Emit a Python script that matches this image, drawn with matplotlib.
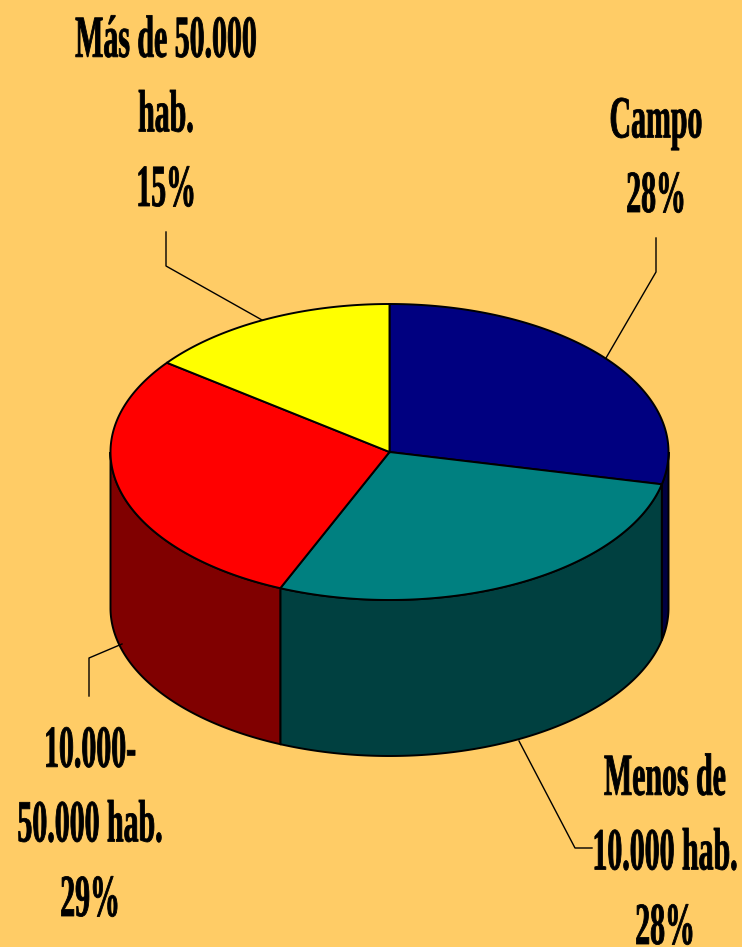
import numpy as np
import matplotlib
matplotlib.use("Agg")
import matplotlib.pyplot as plt
from matplotlib.patches import Polygon
from matplotlib.patheffects import AbstractPathEffect
from matplotlib.transforms import Affine2D

# slices, clockwise from 12 o'clock
labels = ["Campo\n28%", "Menos de\n10.000 hab.\n28%", "10.000-\n50.000 hab.\n29%", "Más de 50.000\nhab.\n15%"]
values = [28.5, 27.9, 28.9, 14.7]
top_colors = ["#000080", "#008080", "#FF0000", "#FFFF00"]
side_colors = ["#000040", "#004040", "#800000", "#808000"]

# x centre and baseline of the last line
label_pos = [(656, 212), (665, 944), (90, 916), (166, 206)]
leaders = [
    [(656, 238), (656, 272), (606, 358)],
    [(592, 848), (575, 848), (519, 741)],
    [(89, 696), (89, 658), (122, 644)],
    [(166, 232), (166, 266), (262, 320)],
]

cx, cy = 389.5, 452
rx, ry = 279, 148
depth = 156


class TallText(AbstractPathEffect):
    # the reference font is a condensed serif, so stretch the glyphs upwards
    def __init__(self, y0, factor, stroke):
        super().__init__()
        self.y0 = y0
        self.factor = factor
        self.stroke = stroke

    def draw_path(self, renderer, gc, tpath, affine, rgbFace=None):
        stretch = Affine2D().translate(0, -self.y0).scale(1, self.factor).translate(0, self.y0)
        gc0 = renderer.new_gc()
        gc0.copy_properties(gc)
        gc0.set_foreground("black")
        gc0.set_linewidth(self.stroke)
        renderer.draw_path(gc0, tpath, affine + stretch, rgbFace)
        gc0.restore()


def rim(t):
    # t is clockwise from the top, in radians
    return cx + rx * np.sin(t), cy - ry * np.cos(t)


fig = plt.figure(figsize=(7.42, 9.47), dpi=100, facecolor="#FFCC66")
ax = fig.add_axes([0, 0, 1, 1])
ax.set_xlim(0, 742)
ax.set_ylim(947, 0)
ax.axis("off")

edges = np.cumsum([0] + values) / sum(values) * 2 * np.pi

# walls of the cylinder, only the front half shows
for i in range(len(values)):
    a = max(edges[i], np.pi / 2)
    b = min(edges[i + 1], 3 * np.pi / 2)
    if b <= a:
        continue
    t = np.linspace(a, b, 200)
    x, y = rim(t)
    pts = np.column_stack([np.r_[x, x[::-1]], np.r_[y, y[::-1] + depth]])
    ax.add_patch(Polygon(pts, closed=True, fc=side_colors[i], ec="black", lw=1.4))

# top face
for i in range(len(values)):
    t = np.linspace(edges[i], edges[i + 1], 200)
    x, y = rim(t)
    pts = np.column_stack([np.r_[cx, x], np.r_[cy, y]])
    ax.add_patch(Polygon(pts, closed=True, fc=top_colors[i], ec="black", lw=1.4))

for line in leaders:
    xs, ys = zip(*line)
    ax.plot(xs, ys, color="black", lw=1)

for text, (x, y) in zip(labels, label_pos):
    t = ax.text(x, y, text, ha="center", va="baseline", family="Liberation Serif",
                weight="bold", fontsize=21.5, linespacing=1.49, color="black", clip_on=False)
    t.set_path_effects([TallText(ax.transData.transform((x, y))[1], 2.0, 0.6)])

fig.savefig("out.png", dpi=100, facecolor=fig.get_facecolor())
